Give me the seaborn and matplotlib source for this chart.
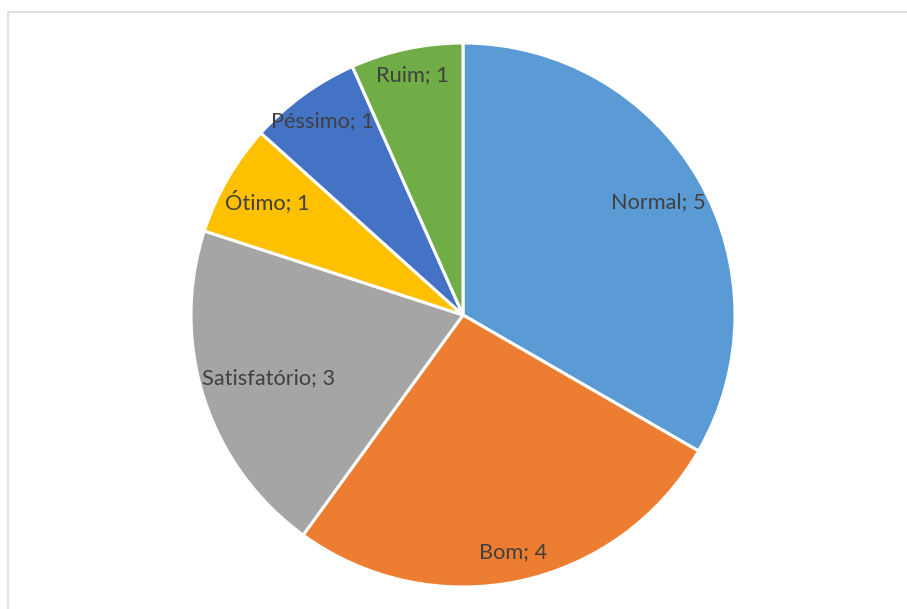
import matplotlib
matplotlib.use("Agg")
import matplotlib.pyplot as plt
import numpy as np
import seaborn as sns

categories = ["Normal", "Bom", "Satisfatório", "Ótimo", "Péssimo", "Ruim"]
values = [5, 4, 3, 1, 1, 1]
colors = ["#5B9BD5", "#ED7D31", "#A5A5A5", "#FFC000", "#4472C4", "#70AD47"]
# radial position of each data label, as a fraction of the radius
label_dist = [0.83, 0.89, 0.75, 0.83, 0.88, 0.90]

sns.set_theme(style="white")
plt.rcParams["font.family"] = ["Lato", "DejaVu Sans"]

W, H = 907, 609
fig = plt.figure(figsize=(W / 100, H / 100), dpi=100)

# chart area frame (top and left edges visible)
frame = plt.Rectangle((8 / W, -0.1), 1.2, (609 - 12) / H + 0.1, transform=fig.transFigure,
                      fill=False, edgecolor="#D9D9D9", linewidth=1.2)
fig.patches.append(frame)

cx, cy, r = 463, 315, 272
ax = fig.add_axes([(cx - r) / W, (H - cy - r) / H, 2 * r / W, 2 * r / H])
palette = sns.color_palette(colors)
wedges, _ = ax.pie(values, colors=palette, startangle=90, counterclock=False,
                   wedgeprops=dict(edgecolor="white", linewidth=2.2), radius=1)
ax.set_xlim(-1, 1)
ax.set_ylim(-1, 1)
ax.set_aspect("auto")
ax.axis("off")

for w, cat, val, d in zip(wedges, categories, values, label_dist):
    mid = np.deg2rad((w.theta1 + w.theta2) / 2)
    ax.text(d * np.cos(mid), d * np.sin(mid), f"{cat}; {val}", ha="center", va="center",
            fontsize=15.7, color="#404040")

fig.savefig("out.png", dpi=100)
